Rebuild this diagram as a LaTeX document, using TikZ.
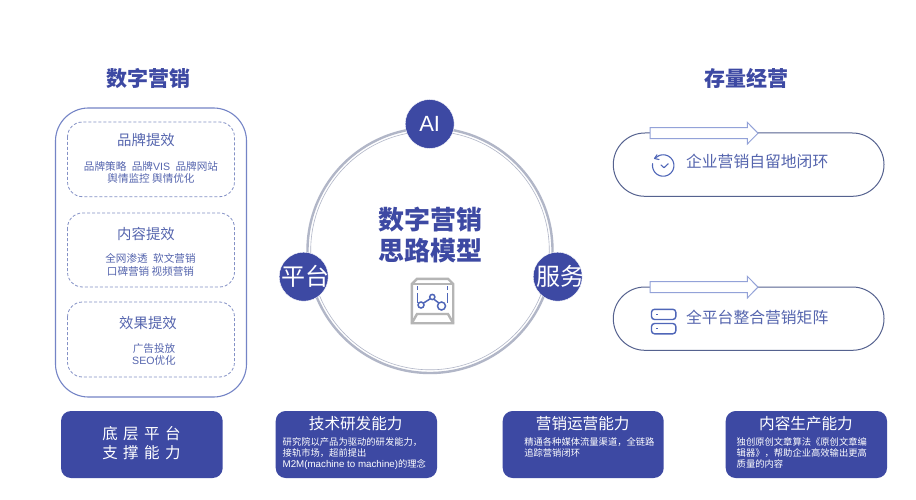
\documentclass[tikz,border=0pt]{standalone}
\usepackage{fontspec}
\setmainfont{Noto Sans CJK SC}
\newfontfamily\latf{Liberation Sans}
\newcommand{\lat}[1]{{\latf #1}}
\definecolor{navy}{HTML}{3D49A3}
\definecolor{blueText}{HTML}{5565AE}
\definecolor{blueLine}{HTML}{7484C6}
\definecolor{dashLine}{HTML}{8491C6}
\definecolor{pillLine}{HTML}{55628F}
\definecolor{ringGray}{HTML}{B1B6C7}
\definecolor{arrowLine}{HTML}{93A2D8}
\definecolor{iconGray}{HTML}{B5B5B5}
\definecolor{iconBlue}{HTML}{4F66B8}
\newcommand{\fs}[2]{\fontsize{#1}{#2}\selectfont}
\tikzset{
  x=1pt,y=-1pt,
  txt/.style={inner sep=0pt,outer sep=0pt,align=center},
  sectiontitle/.style={txt,text=navy,font=\fs{21}{24}\bfseries},
  groupbox/.style={draw=dashLine,densely dashed,line width=.8pt,rounded corners=15pt},
  grouphead/.style={txt,text=blueText,font=\fs{14.4}{17}},
  groupbody/.style={txt,text=blueText,font=\fs{10.6}{12.3}},
  capbox/.style={fill=navy,rounded corners=10pt},
  caphead/.style={txt,text=white,font=\fs{15.6}{18}},
  capbody/.style={txt,text=white,font=\fs{9.3}{11.2},align=left,anchor=north west},
  badge/.style={circle,fill=navy,draw=white,line width=.4pt,minimum size=49pt,inner sep=0pt},
  badgetext/.style={txt,text=white,font=\fs{24}{28}},
  pill/.style={draw=pillLine,line width=1pt,fill=white,rounded corners=31.6pt},
  hollowarrow/.style={draw=arrowLine,line width=1pt,fill=white},
  pilltext/.style={txt,text=blueText,font=\fs{15.8}{18}},
  iconline/.style={draw=iconBlue,line width=1.1pt},
}
\begin{document}
\begin{tikzpicture}
\useasboundingbox (0,0) rectangle (916,500);
\fill[white] (0,0) rectangle (916,500);

% Titles
\node[sectiontitle] (titleL) at (148,79) {数字营销};
\node[sectiontitle] (titleR) at (746,78) {存量经营};

% Left panel
\draw[draw=blueLine,line width=1.1pt,rounded corners=33pt] (55.5,108) rectangle (246.5,397);
\draw[groupbox] (67.5,122) rectangle (234.5,196.7);
\draw[groupbox] (67.5,213) rectangle (234.5,287);
\draw[groupbox] (67.5,302) rectangle (234.5,377);
\node[grouphead] (g1) at (146,140) {品牌提效};
\node[groupbody] (g1b) at (151,172.7) {品牌策略\hspace{5.5pt}品牌\lat{VIS}\hspace{5.5pt}品牌网站\\舆情监控 舆情优化};
\node[grouphead] (g2) at (146,234) {内容提效};
\node[groupbody] (g2b) at (150.5,265) {全网渗透\hspace{5.5pt}软文营销\\口碑营销 视频营销};
\node[grouphead] (g3) at (148,322.7) {效果提效};
\node[groupbody] (g3b) at (154,354.3) {广告投放\\\lat{SEO}优化};

% Ring
\draw[ringGray,line width=2.4pt] (430,250.5) circle (122.5);
\draw[ringGray,line width=.6pt] (430,250.5) circle (119.3);
\node[badge] (ai) at (429.7,124) {};
\node[badge] (pt) at (303.7,276.7) {};
\node[badge] (fw) at (557.7,276.7) {};
\node[badgetext,font=\fs{22}{24}\latf] (aiT) at (429.7,124) {AI};
\node[badgetext] (ptT) at (305.5,276.7) {平台};
\node[badgetext] (fwT) at (560,276.7) {服务};
\node[txt,text=navy,font=\fs{26}{31.7}\bfseries] (center) at (430,235) {数字营销\\思路模型};

% Centre icon
\draw[iconGray,line width=2.4pt,line join=miter] (411.8,284)--(417,278.8)--(448,278.8)--(453.2,284)--(453.2,323.2)--(411.8,323.2)--cycle;
\draw[iconGray,line width=2.4pt] (411.8,284)--(453.2,284);
\draw[iconGray,line width=2.4pt] (411.8,323.2)--(417,314)--(448,314)--(453.2,323.2);
\draw[iconBlue,line width=.5pt] (417.5,286)--(417.5,290) (417.5,293)--(417.5,303) (447.5,286)--(447.5,290) (447.5,293)--(447.5,303);
\draw[iconBlue,line width=1.5pt] (421,305) circle (3) (432.3,297) circle (2.6) (441.5,306) circle (4);
\draw[iconBlue,line width=1.5pt] (423.3,303.2)--(430.3,298.7) (433.8,299.2)--(438.9,303);

% Bottom boxes
\fill[capbox] (61,411) rectangle (222.7,478);
\fill[capbox] (275.7,411) rectangle (437,478);
\fill[capbox] (502.7,411) rectangle (663.7,478);
\fill[capbox] (725.7,411) rectangle (887,478);
\node[txt,text=white,font=\fs{15.5}{19.7}] (c0) at (141.5,443) {\spaceskip=5.5pt 底 层 平 台\\\spaceskip=5.5pt 支 撑 能 力};
\node[caphead] (c1) at (355.7,423.5) {技术研发能力};
\node[capbody] (c1b) at (282.7,437.3) {研究院以产品为驱动的研发能力，\\接轨市场，超前提出\\{\latf\fontsize{9.75}{11.2}\selectfont M2M(machine to machine)}的理念};
\node[caphead] (c2) at (582.7,423.5) {营销运营能力};
\node[capbody] (c2b) at (524.3,437.3) {精通各种媒体流量渠道，全链路\\追踪营销闭环};
\node[caphead] (c3) at (806,423.5) {内容生产能力};
\node[capbody] (c3b) at (736.7,437.3) {独创原创文章算法《原创文章编\\辑器》，帮助企业高效输出更高\\质量的内容};

% Right pills
\draw[pill] (613.3,133) rectangle (884,196.3);
\draw[pill] (613.3,287) rectangle (884,350.3);
\draw[hollowarrow] (650,127.7)--(747.3,127.7)--(747.3,122.3)--(758,133.2)--(747.3,144)--(747.3,138.7)--(650,138.7)--cycle;
\draw[hollowarrow] (650,281.7)--(747.3,281.7)--(747.3,276.3)--(758,287.1)--(747.3,298)--(747.3,292.5)--(650,292.5)--cycle;
\node[pilltext] (p1) at (757.2,161.5) {企业营销自留地闭环};
\node[pilltext] (p2) at (757.2,317.5) {全平台整合营销矩阵};

% Pill icons
\draw[iconline,line cap=round,smooth] plot[domain=115:-190,samples=50] ({663.2+10.7*cos(\x)},{165.5-10.7*sin(\x)});
\draw[iconline,line cap=round,line join=round] (658.7,155.8)--(654.5,158.5);
\draw[iconline,line cap=round,line join=round] (657,154.8)--(654.5,158.5)--(659,159.5);
\draw[iconline,line cap=round,line join=round] (661,165)--(664,167.7)--(668.3,163.7);
\draw[iconline,line width=1.4pt,rounded corners=3pt] (651.5,309.3) rectangle (675.8,319.5);
\draw[iconline,line width=1.4pt,rounded corners=3pt] (651.5,323.5) rectangle (675.8,333.8);
\draw[iconline,line width=1.4pt] (656,314.4)--(658,314.4) (656,328.6)--(658,328.6);
\end{tikzpicture}
\end{document}
